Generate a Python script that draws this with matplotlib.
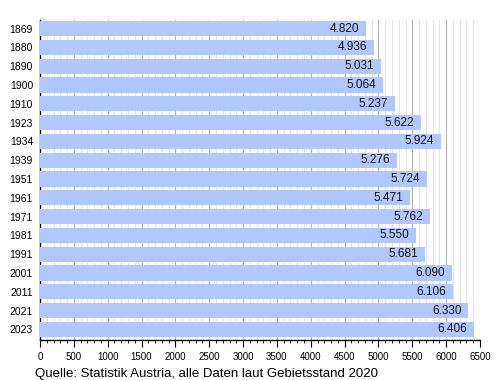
import numpy as np
import matplotlib.pyplot as plt
from matplotlib.ticker import MultipleLocator

plt.rcParams['font.family'] = ['Liberation Sans', 'DejaVu Sans']

# Einwohner je Volkszählung
years = ["1869", "1880", "1890", "1900", "1910", "1923", "1934", "1939", "1951",
         "1961", "1971", "1981", "1991", "2001", "2011", "2021", "2023"]
population = [4820, 4936, 5031, 5064, 5237, 5622, 5924, 5276, 5724,
              5471, 5762, 5550, 5681, 6090, 6106, 6330, 6406]

fig = plt.figure(figsize=(5, 3.8), dpi=100)
ax = fig.add_axes([0.08, 0.105, 0.88, 0.842])

y = np.arange(len(years))
ax.barh(y, population, height=0.8, color="#b0c8ff", zorder=3)

# Gitterlinien: alle 100 hell, alle 500 dunkler
for v in range(100, 6600, 100):
    col = "#b4b4b4" if v % 500 == 0 else "#e4e4e4"
    ax.axvline(v, color=col, lw=0.8, zorder=1)

for yi, v in zip(y, population):
    txt = f"{v:,}".replace(",", ".")
    ax.annotate(txt, (v, yi), xytext=(-5, 0), textcoords="offset points",
                ha="right", va="center", fontsize=8.5, color="#111111", zorder=4)

ax.set_xlim(0, 6500)
ax.set_ylim(16.57, -0.45)
ax.set_yticks(y)
ax.set_yticklabels(years, fontsize=7.5)
ax.tick_params(axis="y", length=0, pad=5)
ax.xaxis.set_major_locator(MultipleLocator(500))
ax.xaxis.set_minor_locator(MultipleLocator(100))
ax.tick_params(axis="x", which="major", length=5, labelsize=7, direction="out")
ax.tick_params(axis="x", which="minor", length=2.5, direction="out")

for s in ["top", "right"]:
    ax.spines[s].set_visible(False)
ax.spines["left"].set_linewidth(1.0)
ax.spines["bottom"].set_linewidth(1.0)

fig.text(0.07, 0.016, "Quelle: Statistik Austria, alle Daten laut Gebietsstand 2020",
         fontsize=9.5, ha="left", va="center")

fig.savefig("out.png", dpi=100)
